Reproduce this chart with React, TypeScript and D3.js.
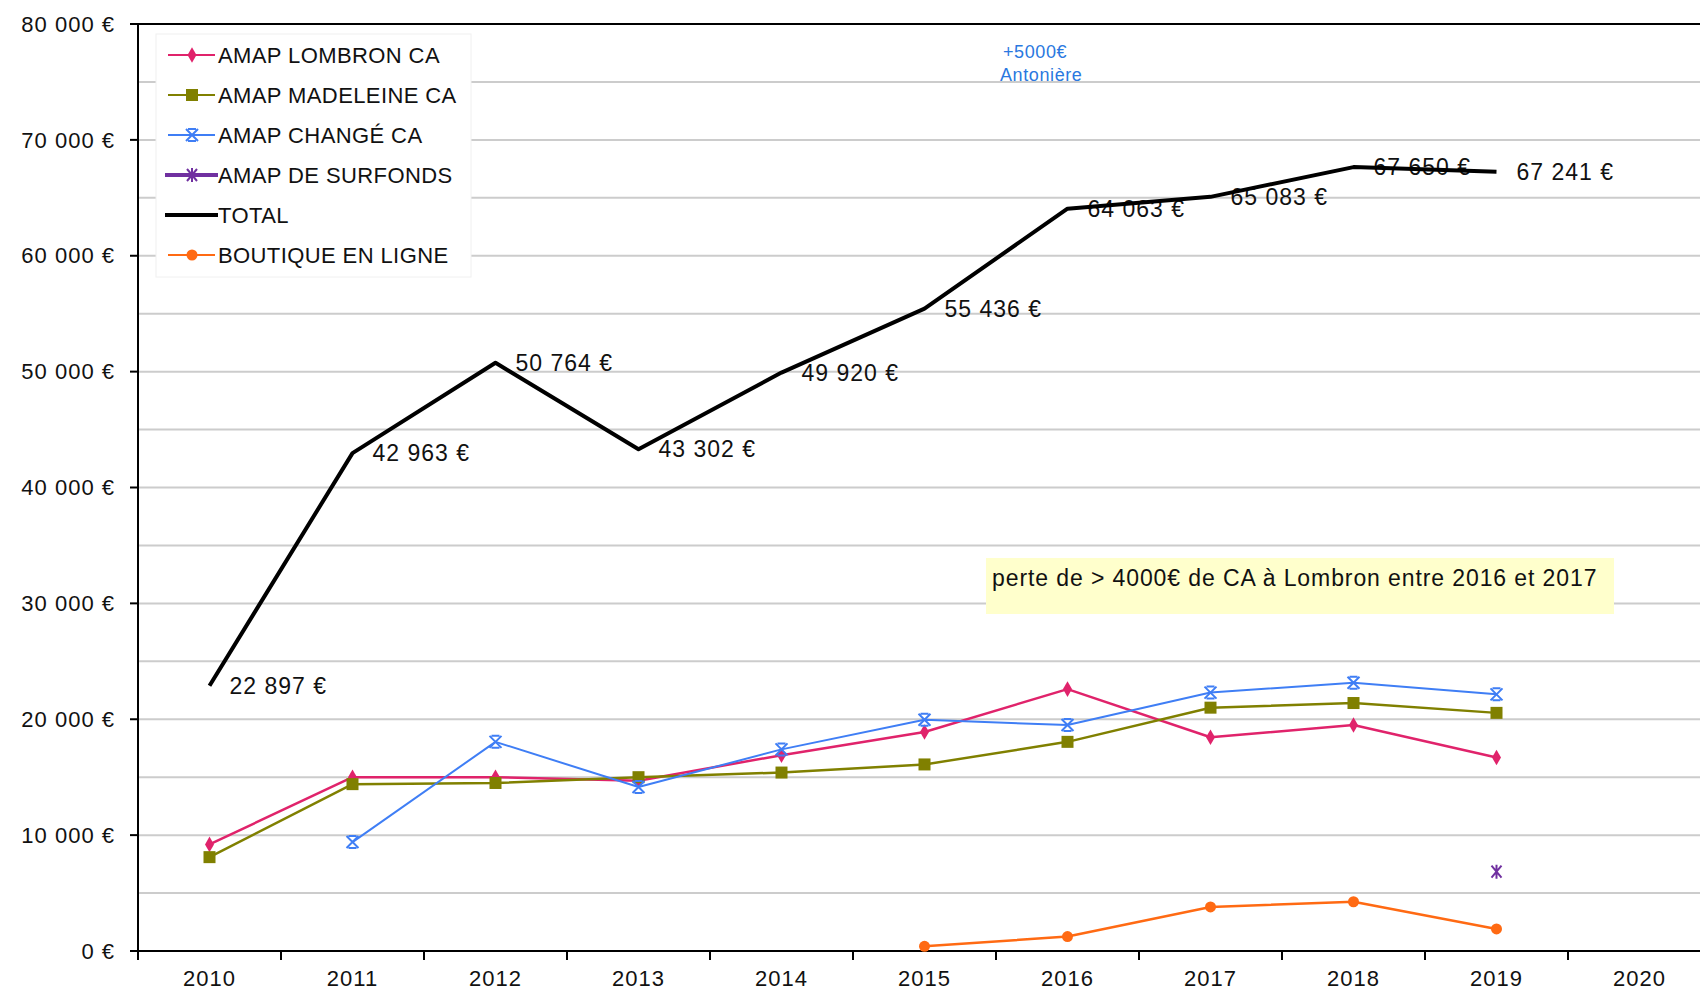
import React, { useRef, useEffect } from 'react';
import * as d3 from 'd3';

// categories
const years = ['2010', '2011', '2012', '2013', '2014', '2015', '2016', '2017', '2018', '2019', '2020'];

// series values (null = no value)
const lombron = [9200, 15000, 15000, 14700, 16900, 18900, 22600, 18450, 19500, 16700, null];
const madeleine = [8100, 14400, 14500, 15000, 15400, 16100, 18050, 21000, 21400, 20550, null];
const change = [null, 9400, 18050, 14150, 17400, 19950, 19500, 22300, 23150, 22150, null];
const surfonds = [null, null, null, null, null, null, null, null, null, 6850, null];
const total = [22897, 42963, 50764, 43302, 49920, 55436, 64063, 65083, 67650, 67241, null];
const boutique = [null, null, null, null, null, 400, 1250, 3800, 4250, 1900, null];

const yTicks = [0, 10000, 20000, 30000, 40000, 50000, 60000, 70000, 80000];
const gridTicks = d3.range(5000, 80000, 5000);

const FONT = '"Liberation Sans", Arial, sans-serif';

const fmt = (v: number) => d3.format(',')(v).replace(/,/g, ' ') + ' €';

const App = () => {
  const ref = useRef<SVGSVGElement>(null);

  useEffect(() => {
    const width = 1700;
    const height = 990;
    const left = 138;
    const right = 1711;
    const top = 24;
    const bottom = 951;

    const svg = d3.select(ref.current);
    svg.selectAll('*').remove();
    svg.attr('width', width).attr('height', height);

    const x = d3.scaleBand().domain(years).range([left, right]).padding(0);
    const y = d3.scaleLinear().domain([0, 80000]).range([bottom, top]);
    const cx = (i: number) => (x(years[i]) as number) + x.bandwidth() / 2;

    // gridlines
    svg.append('g')
      .selectAll('line')
      .data(gridTicks)
      .enter().append('line')
      .attr('x1', left).attr('x2', width)
      .attr('y1', d => y(d)).attr('y2', d => y(d))
      .attr('stroke', '#cccccc').attr('stroke-width', 2);

    // top frame line
    svg.append('line')
      .attr('x1', left - 8).attr('x2', width)
      .attr('y1', y(80000)).attr('y2', y(80000))
      .attr('stroke', '#000').attr('stroke-width', 2);

    // y axis
    svg.append('line')
      .attr('x1', left).attr('x2', left).attr('y1', top).attr('y2', bottom + 8)
      .attr('stroke', '#000').attr('stroke-width', 2);
    const yg = svg.append('g');
    yg.selectAll('line').data(yTicks).enter().append('line')
      .attr('x1', left - 8).attr('x2', left)
      .attr('y1', d => y(d)).attr('y2', d => y(d))
      .attr('stroke', '#000').attr('stroke-width', 2);
    yg.selectAll('text').data(yTicks).enter().append('text')
      .attr('x', 115).attr('y', d => y(d))
      .attr('dy', '0.35em')
      .attr('text-anchor', 'end')
      .attr('font-family', FONT).attr('font-size', 22).attr('letter-spacing', 1)
      .attr('fill', '#111')
      .text(d => fmt(d));

    // x axis
    svg.append('line')
      .attr('x1', left - 8).attr('x2', width).attr('y1', bottom).attr('y2', bottom)
      .attr('stroke', '#000').attr('stroke-width', 2);
    const xg = svg.append('g');
    xg.selectAll('line').data(years).enter().append('line')
      .attr('x1', d => x(d) as number).attr('x2', d => x(d) as number)
      .attr('y1', bottom).attr('y2', bottom + 9)
      .attr('stroke', '#000').attr('stroke-width', 2);
    xg.selectAll('text').data(years).enter().append('text')
      .attr('x', (d, i) => cx(i)).attr('y', 986)
      .attr('text-anchor', 'middle')
      .attr('font-family', FONT).attr('font-size', 22).attr('letter-spacing', 1)
      .attr('fill', '#111')
      .text(d => d);

    // total labels (drawn under the line)
    svg.append('g').selectAll('text')
      .data(total.map((v, i) => ({ v, i })).filter(d => d.v != null))
      .enter().append('text')
      .attr('x', d => cx(d.i) + 20)
      .attr('y', d => y(d.v as number))
      .attr('dy', '0.35em')
      .attr('font-family', FONT).attr('font-size', 23).attr('letter-spacing', 1)
      .attr('fill', '#111')
      .text(d => fmt(d.v as number));

    const line = d3.line<number | null>()
      .defined(d => d != null)
      .x((d, i) => cx(i))
      .y(d => y(d as number));

    const series = [
      { data: lombron, color: '#e0236b', width: 2.5, marker: 'diamond' },
      { data: madeleine, color: '#808000', width: 2.5, marker: 'square' },
      { data: change, color: '#3f7ef5', width: 2, marker: 'x' },
      { data: surfonds, color: '#7030a0', width: 2, marker: 'star' },
      { data: boutique, color: '#ff6a13', width: 2.5, marker: 'circle' },
    ];

    const drawMarker = (g: any, type: string, px: number, py: number, color: string) => {
      if (type === 'diamond') {
        g.append('path').attr('d', d3.symbol(d3.symbolDiamond, 70)()).attr('transform', `translate(${px},${py})`).attr('fill', color);
      } else if (type === 'square') {
        g.append('rect').attr('x', px - 6).attr('y', py - 6).attr('width', 12).attr('height', 12).attr('fill', color);
      } else if (type === 'circle') {
        g.append('circle').attr('cx', px).attr('cy', py).attr('r', 5.5).attr('fill', color);
      } else if (type === 'x') {
        g.append('path').attr('d', `M${px - 6},${py - 6}L${px + 6},${py + 6}M${px - 6},${py + 6}L${px + 6},${py - 6}M${px - 4},${py - 6}L${px + 4},${py - 6}M${px - 4},${py + 6}L${px + 4},${py + 6}`)
          .attr('stroke', color).attr('stroke-width', 2).attr('fill', 'none');
      } else if (type === 'star') {
        g.append('path').attr('d', `M${px - 5},${py - 6}L${px + 5},${py + 6}M${px - 5},${py + 6}L${px + 5},${py - 6}M${px},${py - 7}L${px},${py + 7}`)
          .attr('stroke', color).attr('stroke-width', 2).attr('fill', 'none');
      }
    };

    series.forEach(s => {
      const g = svg.append('g');
      g.append('path').attr('d', line(s.data) as string)
        .attr('fill', 'none').attr('stroke', s.color).attr('stroke-width', s.width)
        .attr('stroke-linejoin', 'round');
      s.data.forEach((v, i) => {
        if (v != null) drawMarker(g, s.marker, cx(i), y(v), s.color);
      });
    });

    // total line
    svg.append('path').attr('d', line(total) as string)
      .attr('fill', 'none').attr('stroke', '#000').attr('stroke-width', 4)
      .attr('stroke-linejoin', 'round');

    // legend
    const lg = svg.append('g');
    lg.append('rect').attr('x', 156).attr('y', 34).attr('width', 315).attr('height', 243)
      .attr('fill', '#fff').attr('stroke', '#f0f0f0').attr('stroke-width', 1);
    const legendItems = [
      { name: 'AMAP LOMBRON CA', color: '#e0236b', width: 2, marker: 'diamond' },
      { name: 'AMAP MADELEINE CA', color: '#808000', width: 2, marker: 'square' },
      { name: 'AMAP CHANGÉ CA', color: '#3f7ef5', width: 2, marker: 'x' },
      { name: 'AMAP DE SURFONDS', color: '#7030a0', width: 4, marker: 'star' },
      { name: 'TOTAL', color: '#000', width: 4, marker: 'none' },
      { name: 'BOUTIQUE EN LIGNE', color: '#ff6a13', width: 2, marker: 'circle' },
    ];
    legendItems.forEach((d, i) => {
      const ly = 55 + i * 40;
      const x0 = d.width > 2 ? 165 : 168;
      const x1 = d.width > 2 ? 218 : 215;
      lg.append('line').attr('x1', x0).attr('x2', x1).attr('y1', ly).attr('y2', ly)
        .attr('stroke', d.color).attr('stroke-width', d.width);
      drawMarker(lg, d.marker, 192, ly, d.color);
      lg.append('text').attr('x', 218).attr('y', ly).attr('dy', '0.35em')
        .attr('font-family', FONT).attr('font-size', 22).attr('letter-spacing', 0.4).attr('fill', '#111')
        .text(d.name);
    });

    // annotation: +5000€ Antonière
    const ag = svg.append('g').attr('font-family', FONT).attr('font-size', 18)
      .attr('letter-spacing', 0.6).attr('fill', '#2a78e0');
    ag.append('text').attr('x', 1003).attr('y', 58).text('+5000€');
    ag.append('text').attr('x', 1000).attr('y', 81).text('Antonière');

    // annotation box
    svg.append('rect').attr('x', 986).attr('y', 558).attr('width', 628).attr('height', 56)
      .attr('fill', '#ffffcc');
    svg.append('text').attr('x', 992).attr('y', 578).attr('dy', '0.35em')
      .attr('font-family', FONT).attr('font-size', 23).attr('letter-spacing', 0.9).attr('fill', '#111')
      .text('perte de > 4000€ de CA à Lombron entre 2016 et 2017');
  }, []);

  return (
    <div style={{ position: 'absolute', left: 0, top: 0 }}>
      <svg ref={ref} style={{ display: 'block' }} />
    </div>
  );
};

export default App;
